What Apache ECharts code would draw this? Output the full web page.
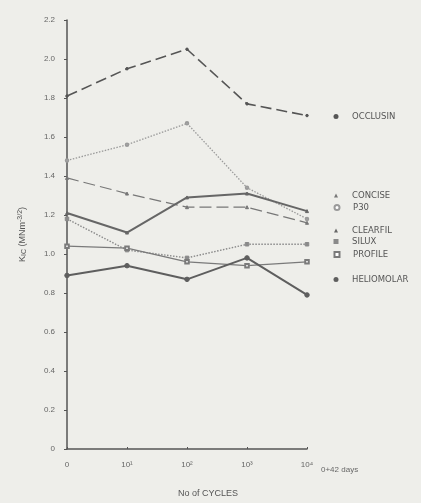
<!DOCTYPE html>
<html>
<head>
<meta charset="utf-8">
<script src="https://cdn.jsdelivr.net/npm/echarts@6/dist/echarts.min.js"></script>
<style>
  html, body { margin: 0; padding: 0; background: #eeeeea; }
  #chart { width: 421px; height: 503px; }
</style>
</head>
<body>
<div id="chart"></div>
<script>
// cycles (category axis)
var cycles = ['0', '10¹', '10²', '10³', '10⁴'];
var yTicks = [0, 0.2, 0.4, 0.6, 0.8, 1.0, 1.2, 1.4, 1.6, 1.8, 2.0, 2.2];

// K_IC values
var occlusin   = [1.81, 1.95, 2.05, 1.77, 1.71];
var p30        = [1.48, 1.56, 1.67, 1.34, 1.18];
var concise    = [1.39, 1.31, 1.24, 1.24, 1.16];
var clearfil   = [1.21, 1.11, 1.29, 1.31, 1.22];
var silux      = [1.18, 1.02, 0.98, 1.05, 1.05];
var profile    = [1.04, 1.03, 0.96, 0.94, 0.96];
var heliomolar = [0.89, 0.94, 0.87, 0.98, 0.79];

// legend text rows (label, icon, icon size, y-centre)
var legendRows = [
  ['OCCLUSIN', 'circle', 5, 118],
  ['CONCISE', 'triangle', 4, 197],
  ['P30', 'emptyCircle', 5, 209],
  ['CLEARFIL', 'triangle', 4, 232],
  ['SILUX', 'rect', 5, 243],
  ['PROFILE', 'emptyRect', 5, 256],
  ['HELIOMOLAR', 'circle', 5, 281]
];

var myChart = echarts.init(document.getElementById('chart'));

var mkLine = function(name, data, color, width, type, symbol, size){
  return {
    name: name,
    type: 'line',
    data: data,
    symbol: symbol,
    symbolSize: size,
    showAllSymbol: true,
    lineStyle: { color: color, width: width, type: type },
    itemStyle: { color: color, borderColor: color },
    emphasis: { disabled: true },
    z: 3
  };
};

var legends = legendRows.map(function(r){
  return {
    data: [{ name: r[0], icon: r[1] }],
    left: 336 - r[2] / 2,
    top: r[3] - 6,
    padding: 0,
    itemWidth: r[2],
    itemHeight: r[2],
    selectedMode: false,
    textStyle: { color: '#555', fontSize: 8.5, fontFamily: 'DejaVu Sans', padding: [0, 0, 0, 11 - r[2] / 2] }
  };
});

var option = {
  backgroundColor: '#eeeeea',
  animation: false,
  grid: { left: 67, right: 114, top: 20, bottom: 48 },
  legend: legends,
  xAxis: {
    type: 'category',
    data: cycles,
    boundaryGap: false,
    name: 'No of CYCLES',
    nameLocation: 'middle',
    nameGap: 40,
    nameTextStyle: { color: '#555', fontSize: 9, padding: [0, 0, 0, 42], fontFamily: 'Liberation Sans' },
    axisLine: { lineStyle: { color: '#555', width: 1.5 } },
    axisTick: { show: true, length: 2, inside: true, lineStyle: { color: '#555' } },
    axisLabel: { color: '#666', fontSize: 8, margin: 12, fontFamily: 'Liberation Sans' },
    splitLine: { show: false }
  },
  yAxis: {
    type: 'value',
    min: 0,
    max: 2.2,
    interval: 0.2,
    name: '{a|K}{s|IC}{a| (MNm}{p|-3/2}{a|)}',
    nameLocation: 'middle',
    nameRotate: 90,
    nameGap: 39,
    nameTextStyle: {
      color: '#555',
      rich: {
        a: { fontSize: 9, color: '#555', fontFamily: 'Liberation Sans' },
        s: { fontSize: 7, color: '#555', verticalAlign: 'bottom', padding: [4, 0, 0, 0] },
        p: { fontSize: 7, color: '#555', verticalAlign: 'top', padding: [0, 0, 4, 0] }
      }
    },
    axisLine: { show: true, lineStyle: { color: '#555', width: 1.5 } },
    axisTick: { show: true, length: 3, lineStyle: { color: '#555' } },
    axisLabel: {
      color: '#666', fontSize: 8, margin: 12, fontFamily: 'Liberation Sans',
      formatter: function(v){
        var t = yTicks.filter(function(k){ return Math.abs(k - v) < 1e-6; })[0];
        return t === 0 ? '0' : t.toFixed(1);
      }
    },
    splitLine: { show: false }
  },
  graphic: [{
    type: 'text',
    left: 321,
    top: 466,
    style: { text: '0+42 days', fill: '#666', fontSize: 8, fontFamily: 'Liberation Sans' }
  }],
  series: [
    mkLine('OCCLUSIN', occlusin, '#555', 1.6, [11, 5], 'circle', 2.5),
    mkLine('P30', p30, '#9a9a9a', 1.3, [1.5, 1.5], 'emptyCircle', 2.5),
    mkLine('CONCISE', concise, '#777', 1.2, [12, 5], 'triangle', 3),
    mkLine('CLEARFIL', clearfil, '#666', 2, 'solid', 'triangle', 3),
    mkLine('SILUX', silux, '#8a8a8a', 1.4, [1.5, 1.5], 'rect', 3.5),
    mkLine('PROFILE', profile, '#7a7a7a', 1.3, 'solid', 'emptyRect', 3.5),
    mkLine('HELIOMOLAR', heliomolar, '#5e5e5e', 2, 'solid', 'circle', 4.5)
  ]
};

myChart.setOption(option);
</script>
</body>
</html>
